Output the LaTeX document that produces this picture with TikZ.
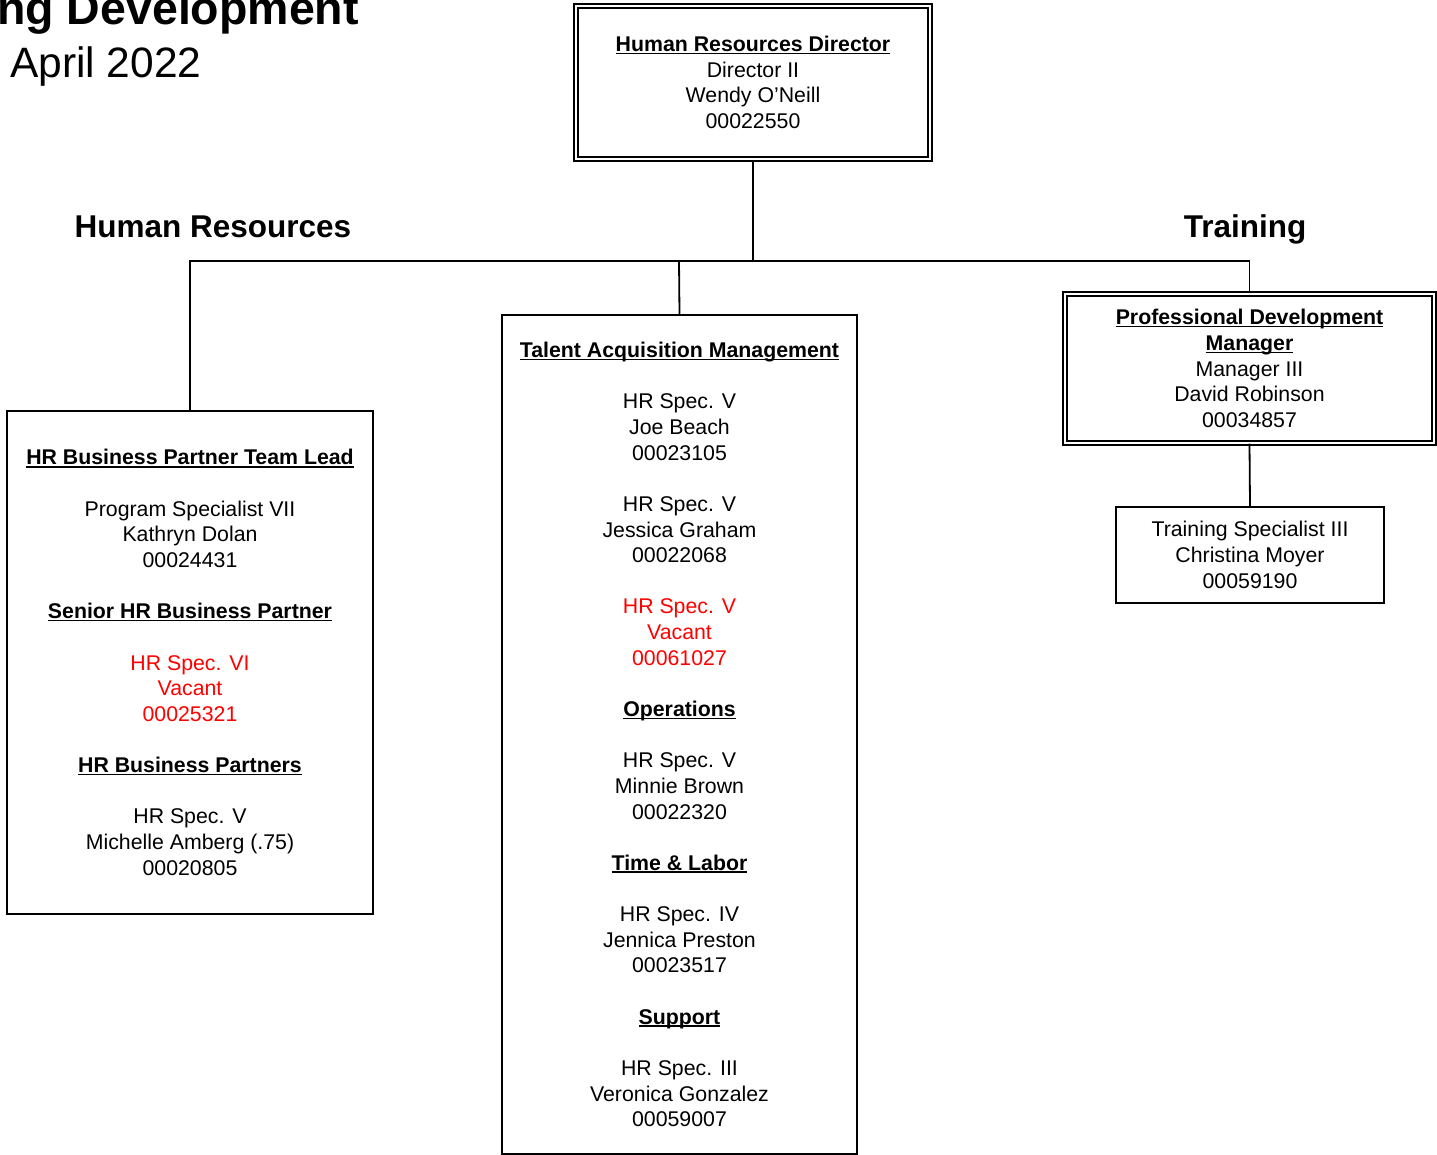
\documentclass[tikz,border=0pt]{standalone}
\usepackage{fontspec}
\setmainfont{Liberation Sans}
% bold heading with a rule underneath
\newcommand\ulh[1]{\setbox0\hbox{\bfseries #1}\rlap{\rule[-2.6pt]{\wd0}{1.5pt}}\box0}
\newcommand\redl[1]{\textcolor{red}{#1}}
\begin{document}
\begin{tikzpicture}[x=1pt,y=-1pt,
  box/.style={draw, line width=1.8pt, rectangle, inner sep=0pt, align=center,
              font=\fontsize{21.3}{25.64}\selectfont},
  dbox/.style={box, double, double distance=2.6pt, line width=1.4pt},
  link/.style={line width=1.8pt},
  trunk/.style={line width=2.8pt},
  section/.style={font=\fontsize{31.5}{36}\selectfont\bfseries, anchor=base, inner sep=0pt}]
\useasboundingbox (0,0) rectangle (1437,1155);
\clip (0,0) rectangle (1437,1155);

% heading
\node[anchor=base west, inner sep=0pt, font=\fontsize{46.5}{50}\selectfont\bfseries] (title) at (-3,25) {ng Development};
\node[anchor=base west, inner sep=0pt, font=\fontsize{42.5}{46}\selectfont] (date) at (10,78) {April 2022};

% section captions
\node[section] (hrlabel) at (213,238) {Human Resources};
\node[section] (trlabel) at (1245,238) {Training};

% director
\node[dbox, minimum width=354pt, minimum height=153pt] (dir) at (753,82.5)
  {\ulh{Human Resources Director}\\Director II\\Wendy O’Neill\\00022550};

% HR business partners
\node[box, minimum width=366pt, minimum height=503pt] (hr) at (190,662.5)
  {\ulh{HR Business Partner Team Lead}\\[25.64pt]
   Program Specialist VII\\Kathryn Dolan\\00024431\\[25.64pt]
   \ulh{Senior HR Business Partner}\\[25.64pt]
   \redl{HR Spec. VI}\\\redl{Vacant}\\\redl{00025321}\\[25.64pt]
   \ulh{HR Business Partners}\\[25.64pt]
   HR Spec. V\\Michelle Amberg (.75)\\00020805};

% talent acquisition and related teams
\node[box, minimum width=355pt, minimum height=839pt] (tam) at (679.5,734.5)
  {\ulh{Talent Acquisition Management}\\[25.64pt]
   HR Spec. V\\Joe Beach\\00023105\\[25.64pt]
   HR Spec. V\\Jessica Graham\\00022068\\[25.64pt]
   \redl{HR Spec. V}\\\redl{Vacant}\\\redl{00061027}\\[25.64pt]
   \ulh{Operations}\\[25.64pt]
   HR Spec. V\\Minnie Brown\\00022320\\[25.64pt]
   \ulh{Time \& Labor}\\[25.64pt]
   HR Spec. IV\\Jennica Preston\\00023517\\[25.64pt]
   \ulh{Support}\\[25.64pt]
   HR Spec. III\\Veronica Gonzalez\\00059007};

% professional development
\node[dbox, minimum width=369pt, minimum height=149pt] (pd) at (1249.5,368.5)
  {\ulh{Professional Development}\\\ulh{Manager}\\Manager III\\David Robinson\\00034857};

\node[box, minimum width=268pt, minimum height=96pt] (ts) at (1250,555)
  {Training Specialist III\\Christina Moyer\\00059190};

% connectors
\coordinate (split) at (679,261);
\draw[trunk] (dir.south) |- (split);
\draw[link] (hr.north) |- (split) -- (tam.north);
\draw[link] (split) -| (pd.north);
\draw[link] (pd.south) -- (ts.north);
\end{tikzpicture}
\end{document}
